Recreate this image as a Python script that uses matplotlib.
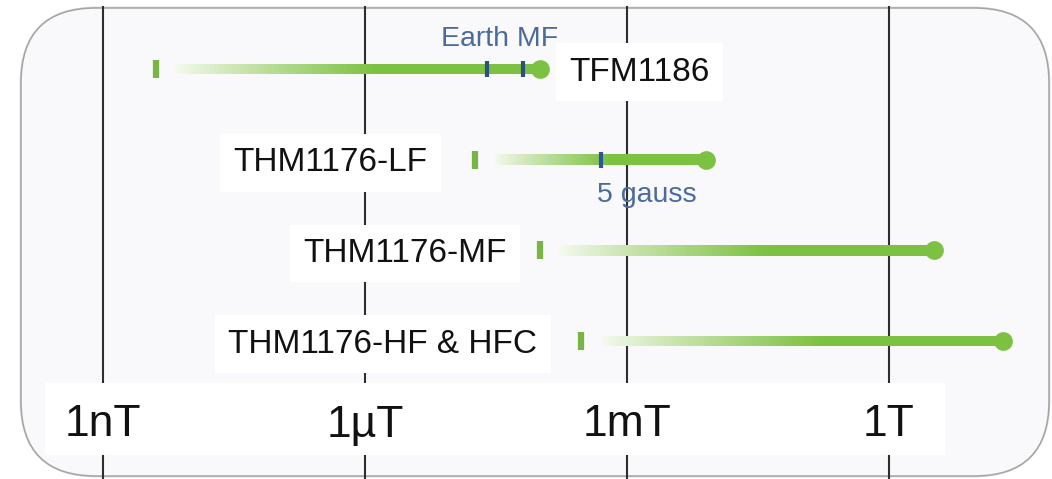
import numpy as np
import matplotlib.pyplot as plt
import matplotlib.transforms as mtransforms
from matplotlib.patches import FancyBboxPatch, Rectangle
from matplotlib.collections import PolyCollection
from matplotlib.colors import to_rgb

plt.rcParams['font.family'] = ['Liberation Sans', 'DejaVu Sans']

# measurement ranges of each probe (tesla)
probes = ['TFM1186', 'THM1176-LF', 'THM1176-MF', 'THM1176-HF & HFC']
range_lo = [4e-9, 1.8e-5, 1e-4, 3e-4]
range_hi = [1e-4, 8e-3, 3.3, 20]

# reference fields marked on the bars
earth_field = [25e-6, 64e-6]
five_gauss = 5e-4

tick_vals = [1e-9, 1e-6, 1e-3, 1]
tick_labels = ['1nT', '1\u00b5T', '1mT', '1T']

# label placement (pixels from bar end / start)
label_gap = [30, -47, -33, -44]

W, H = 1052, 479
green = '#7dc142'
mark_green = '#79b544'
light = '#f6f9f0'
half = 0.058  # half bar thickness, row units

fig = plt.figure(figsize=(W / 100, H / 100), dpi=100)

# background card in pixel coordinates
bg = fig.add_axes([0, 0, 1, 1])
bg.set_xlim(0, W)
bg.set_ylim(H, 0)
bg.axis('off')
bg.add_patch(FancyBboxPatch((22, 9), 1026, 466,
                            boxstyle='round,pad=0,rounding_size=75',
                            facecolor='none', edgecolor='#d8d8d8', lw=3.5))
bg.add_patch(FancyBboxPatch((21, 8), 1028, 468,
                            boxstyle='round,pad=0,rounding_size=75',
                            facecolor='#f9f9fc', edgecolor='#a4a4a4', lw=1.1))

# main log axis, rows in index units
ax = fig.add_axes([0, 0, 1, 1])
ax.set_xscale('log')
ax.set_xlim(10 ** -10.1794, 10 ** 1.867)
ax.set_ylim(4.52, -0.761)
ax.axis('off')
px = mtransforms.blended_transform_factory(ax.transData, bg.transData)

for v in tick_vals:
    ax.axvline(v, ymin=0, ymax=1 - 7 / H, color='#2e2e2e', lw=1.5, zorder=1)

# white band behind the axis labels
ax.add_patch(Rectangle((45, 383), 900, 72, transform=bg.transData,
                       facecolor='white', edgecolor='none', zorder=2))
for v, lab in zip(tick_vals, tick_labels):
    ax.text(v, 425, lab, transform=px, ha='center', va='center',
            fontsize=32, color='#111111', zorder=3)

c0 = np.array(to_rgb(light))
c1 = np.array(to_rgb(green))
for i, (name, lo, hi) in enumerate(zip(probes, range_lo, range_hi)):
    llo, lhi = np.log10(lo), np.log10(hi)
    g0 = llo + 0.22
    g1 = g0 + 0.55 * (lhi - g0)
    xs = np.logspace(g0, g1, 120)
    quads = [[(xs[k], i - half), (xs[k + 1], i - half),
              (xs[k + 1], i + half), (xs[k], i + half)]
             for k in range(len(xs) - 1)]
    t = np.linspace(0, 1, len(quads))[:, None] ** 0.9
    cols = c0 * (1 - t) + c1 * t
    quads.append([(10 ** g1, i - half), (hi, i - half),
                  (hi, i + half), (10 ** g1, i + half)])
    cols = np.vstack([cols, c1])
    ax.add_collection(PolyCollection(quads, facecolors=cols, edgecolors='none',
                                     antialiased=False, zorder=4))
    ax.plot(hi, i, 'o', ms=13.5, color=green, mec='none', zorder=5)
    ax.vlines(lo, i - 0.1, i + 0.1, color=mark_green, lw=4.5, zorder=5)

    ha = 'left' if label_gap[i] > 0 else 'right'
    ax.annotate(name, (hi if label_gap[i] > 0 else lo, i),
                xytext=(label_gap[i], -3), textcoords='offset pixels',
                ha=ha, va='center', fontsize=24, color='#111111',
                bbox=dict(boxstyle='square,pad=0.4', fc='white', ec='none'),
                zorder=6)

# Earth magnetic field
ax.vlines(earth_field, -0.09, 0.09, color='#2d4e7e', lw=3, zorder=6)
ax.annotate('Earth MF', (np.sqrt(earth_field[0] * earth_field[1]), 0),
            xytext=(-5, 30), textcoords='offset pixels', ha='center',
            va='center', fontsize=20.5, color='#4a6b9c', zorder=6)

# 5 gauss
ax.vlines(five_gauss, 1 - 0.09, 1 + 0.09, color='#2e5598', lw=3, zorder=6)
ax.annotate('5 gauss', (five_gauss, 1), xytext=(-4, -35),
            textcoords='offset pixels', ha='left', va='center',
            fontsize=20.5, color='#4a6b9c', zorder=3)

fig.savefig('out.png', dpi=100)
